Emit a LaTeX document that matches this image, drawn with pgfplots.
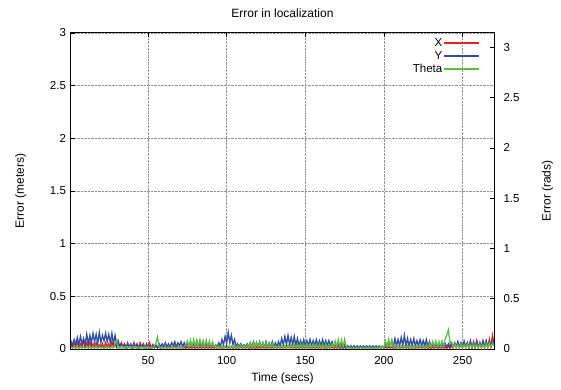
\documentclass[border=0pt]{standalone}
\usepackage{fontspec}
\setmainfont{Liberation Sans}
\usepackage{pgfplots}
\usepackage{pgfplotstable}
\pgfplotsset{compat=1.18}
\definecolor{xred}{RGB}{232,32,36}
\definecolor{yblue}{RGB}{50,78,165}
\definecolor{thgreen}{RGB}{98,186,70}

\pgfplotstableread{
t X Y Th
1 0.05 0.08 0.020
2 0.01 0.03 0.005
3 0.06 0.09 0.025
4 0.02 0.04 0.008
5 0.07 0.11 0.020
6 0.01 0.04 0.005
7 0.05 0.12 0.025
8 0.02 0.05 0.008
9 0.08 0.10 0.022
10 0.01 0.04 0.006
11 0.06 0.14 0.025
12 0.02 0.05 0.008
13 0.07 0.13 0.020
14 0.01 0.06 0.005
15 0.05 0.15 0.025
16 0.02 0.07 0.008
17 0.06 0.14 0.022
18 0.01 0.05 0.006
19 0.04 0.16 0.025
20 0.02 0.06 0.008
21 0.05 0.13 0.020
22 0.01 0.08 0.005
23 0.06 0.15 0.025
24 0.02 0.07 0.008
25 0.05 0.14 0.022
26 0.01 0.06 0.006
27 0.07 0.15 0.025
28 0.02 0.05 0.008
29 0.05 0.13 0.050
30 0.01 0.04 0.090
31 0.05 0.08 0.010
32 0.02 0.02 0.020
33 0.06 0.05 0.008
34 0.02 0.02 0.022
35 0.05 0.04 0.006
36 0.01 0.01 0.020
37 0.06 0.05 0.008
38 0.02 0.02 0.022
39 0.05 0.04 0.006
40 0.01 0.01 0.020
41 0.06 0.05 0.008
42 0.02 0.02 0.022
43 0.05 0.04 0.006
44 0.01 0.01 0.020
45 0.06 0.04 0.008
46 0.02 0.02 0.022
47 0.05 0.04 0.006
48 0.01 0.01 0.020
49 0.05 0.04 0.008
50 0.02 0.02 0.022
51 0.06 0.03 0.006
52 0.01 0.01 0.020
53 0.04 0.04 0.008
54 0.01 0.02 0.030
55 0.03 0.04 0.060
56 0.01 0.01 0.120
57 0.02 0.05 0.020
58 0.005 0.02 0.010
59 0.02 0.05 0.018
60 0.005 0.02 0.008
61 0.02 0.06 0.018
62 0.005 0.02 0.008
63 0.02 0.05 0.018
64 0.005 0.02 0.008
65 0.02 0.06 0.018
66 0.005 0.03 0.008
67 0.03 0.07 0.018
68 0.005 0.02 0.008
69 0.02 0.06 0.018
70 0.005 0.03 0.008
71 0.02 0.07 0.020
72 0.005 0.02 0.008
73 0.02 0.06 0.025
74 0.005 0.02 0.040
75 0.02 0.06 0.080
76 0.005 0.02 0.020
77 0.02 0.06 0.090
78 0.005 0.02 0.020
79 0.02 0.05 0.095
80 0.005 0.02 0.025
81 0.02 0.06 0.090
82 0.005 0.02 0.020
83 0.02 0.05 0.095
84 0.005 0.02 0.025
85 0.02 0.06 0.085
86 0.005 0.02 0.020
87 0.02 0.05 0.090
88 0.005 0.02 0.020
89 0.02 0.05 0.080
90 0.005 0.02 0.020
91 0.02 0.04 0.070
92 0.005 0.02 0.015
93 0.02 0.04 0.035
94 0.005 0.02 0.010
95 0.02 0.06 0.030
96 0.005 0.02 0.010
97 0.02 0.09 0.030
98 0.005 0.04 0.010
99 0.02 0.12 0.030
100 0.005 0.05 0.010
101 0.02 0.16 0.030
102 0.005 0.06 0.010
103 0.02 0.13 0.030
104 0.005 0.04 0.010
105 0.02 0.09 0.035
106 0.005 0.02 0.010
107 0.02 0.05 0.035
108 0.005 0.02 0.010
109 0.02 0.05 0.040
110 0.005 0.02 0.010
111 0.02 0.04 0.035
112 0.005 0.02 0.010
113 0.02 0.05 0.040
114 0.005 0.02 0.015
115 0.02 0.06 0.065
116 0.005 0.02 0.015
117 0.02 0.07 0.070
118 0.005 0.02 0.015
119 0.02 0.06 0.065
120 0.005 0.02 0.015
121 0.02 0.07 0.070
122 0.005 0.02 0.015
123 0.02 0.06 0.065
124 0.005 0.02 0.015
125 0.02 0.07 0.060
126 0.005 0.02 0.015
127 0.02 0.06 0.060
128 0.005 0.02 0.015
129 0.02 0.07 0.055
130 0.005 0.02 0.010
131 0.02 0.06 0.035
132 0.005 0.02 0.010
133 0.02 0.07 0.030
134 0.005 0.03 0.010
135 0.02 0.10 0.035
136 0.005 0.04 0.010
137 0.02 0.12 0.035
138 0.005 0.04 0.010
139 0.03 0.13 0.040
140 0.005 0.04 0.010
141 0.02 0.11 0.045
142 0.005 0.04 0.010
143 0.02 0.12 0.050
144 0.005 0.03 0.010
145 0.02 0.10 0.045
146 0.005 0.03 0.010
147 0.02 0.08 0.050
148 0.005 0.03 0.010
149 0.02 0.09 0.045
150 0.005 0.03 0.010
151 0.02 0.08 0.050
152 0.005 0.03 0.010
153 0.02 0.09 0.045
154 0.005 0.03 0.010
155 0.02 0.08 0.050
156 0.005 0.03 0.010
157 0.02 0.09 0.045
158 0.005 0.03 0.010
159 0.02 0.08 0.050
160 0.005 0.03 0.010
161 0.03 0.09 0.045
162 0.005 0.03 0.010
163 0.02 0.08 0.050
164 0.005 0.03 0.010
165 0.02 0.08 0.045
166 0.005 0.03 0.010
167 0.02 0.07 0.050
168 0.005 0.02 0.015
169 0.02 0.05 0.080
170 0.005 0.02 0.020
171 0.02 0.04 0.095
172 0.005 0.01 0.020
173 0.02 0.04 0.090
174 0.005 0.01 0.020
175 0.02 0.04 0.095
176 0.005 0.01 0.020
177 0.03 0.03 0.020
178 0.005 0.01 0.005
179 0.02 0.03 0.015
180 0.005 0.01 0.005
181 0.02 0.03 0.015
182 0.005 0.01 0.005
183 0.02 0.03 0.015
184 0.005 0.01 0.005
185 0.02 0.03 0.015
186 0.005 0.01 0.005
187 0.02 0.03 0.015
188 0.005 0.01 0.005
189 0.02 0.03 0.015
190 0.005 0.01 0.005
191 0.02 0.03 0.015
192 0.005 0.01 0.005
193 0.02 0.03 0.015
194 0.005 0.01 0.005
195 0.02 0.03 0.015
196 0.005 0.01 0.005
197 0.02 0.03 0.020
198 0.005 0.01 0.005
199 0.02 0.03 0.030
200 0.005 0.01 0.010
201 0.02 0.05 0.080
202 0.005 0.02 0.020
203 0.02 0.06 0.095
204 0.005 0.02 0.020
205 0.02 0.08 0.090
206 0.005 0.02 0.015
207 0.02 0.10 0.035
208 0.005 0.03 0.010
209 0.02 0.09 0.030
210 0.005 0.03 0.010
211 0.02 0.11 0.030
212 0.005 0.03 0.010
213 0.02 0.13 0.030
214 0.005 0.03 0.010
215 0.02 0.10 0.035
216 0.005 0.03 0.010
217 0.02 0.09 0.030
218 0.005 0.03 0.010
219 0.02 0.10 0.030
220 0.005 0.03 0.010
221 0.02 0.08 0.030
222 0.005 0.03 0.010
223 0.02 0.09 0.035
224 0.005 0.03 0.010
225 0.02 0.08 0.035
226 0.005 0.03 0.010
227 0.02 0.09 0.040
228 0.005 0.02 0.015
229 0.02 0.07 0.050
230 0.005 0.02 0.020
231 0.02 0.05 0.075
232 0.005 0.02 0.020
233 0.02 0.05 0.080
234 0.005 0.02 0.020
235 0.02 0.05 0.075
236 0.005 0.02 0.020
237 0.02 0.05 0.080
238 0.005 0.02 0.025
239 0.02 0.05 0.100
240 0.005 0.02 0.140
241 0.03 0.05 0.190
242 0.005 0.02 0.060
243 0.03 0.06 0.070
244 0.01 0.02 0.020
245 0.05 0.06 0.050
246 0.01 0.02 0.015
247 0.06 0.07 0.045
248 0.01 0.02 0.015
249 0.05 0.06 0.050
250 0.01 0.02 0.015
251 0.07 0.07 0.045
252 0.01 0.02 0.015
253 0.06 0.06 0.050
254 0.01 0.02 0.015
255 0.08 0.07 0.045
256 0.01 0.02 0.015
257 0.07 0.06 0.050
258 0.01 0.02 0.015
259 0.08 0.07 0.045
260 0.01 0.02 0.015
261 0.06 0.06 0.050
262 0.01 0.02 0.015
263 0.08 0.07 0.045
264 0.01 0.02 0.015
265 0.07 0.08 0.055
266 0.01 0.02 0.015
267 0.09 0.07 0.060
268 0.02 0.03 0.020
269 0.13 0.08 0.060
270 0.05 0.04 0.030
}\errdata

\begin{document}
\begin{tikzpicture}[font=\fontsize{12}{14}\selectfont]
\path[use as bounding box] (-71pt,-41pt) rectangle (490pt,349pt);
\pgfplotsset{
  common/.style={
    scale only axis, width=423pt, height=316pt,
    xmin=1, xmax=270,
    /pgf/number format/assume math mode=true,
    tick align=inside, major tick length=4pt,
    tick style={black, line width=0.5pt},
    axis line style={black, line width=1pt},
    every tick label/.append style={font=\fontsize{11.5}{13}\selectfont},
  },
  legline/.style={legend image code/.code={%
    \node[inner sep=0pt, anchor=west, text=#1] at (0pt,0pt) {\color{#1}\rule[-0.7pt]{35pt}{1.4pt}};}},
}
\begin{axis}[common,
  ymin=0, ymax=3,
  xtick={50,100,150,200,250},
  ytick={0,0.5,1,1.5,2,2.5,3},
  xtick pos=both, ytick pos=left,
  xticklabel style={yshift=-4pt},
  yticklabel style={xshift=-1.5pt},
  grid=major,
  grid style={densely dotted, gray!85, line width=0.5pt},
  title={Error in localization},
  every axis title/.style={at={(axis description cs:0.5,1.038)}, anchor=south, font=\fontsize{12}{14}\selectfont},
  xlabel={Time (secs)},
  every axis x label/.style={at={(axis description cs:0.5,-0.065)}, anchor=north, font=\fontsize{12}{14}\selectfont},
  ylabel={Error (meters)},
  every axis y label/.style={at={(axis description cs:-0.097,0.5)}, rotate=90, anchor=south, font=\fontsize{12}{14}\selectfont},
  legend style={at={(axis description cs:0.968,0.992)}, anchor=north east,
    draw=none, fill=none, font=\fontsize{11.5}{13}\selectfont,
    row sep=-0.5pt, inner sep=1pt},
  legend cell align=right,
  legend plot pos=right,
]
\addlegendimage{legline=xred}
\addlegendentry{X}
\addlegendimage{legline=yblue}
\addlegendentry{Y}
\addlegendimage{legline=thgreen}
\addlegendentry{Theta}
\addplot[draw=xred, line width=1.3pt, forget plot] table[x=t, y=X] {\errdata};
\addplot[draw=yblue, line width=1.3pt, forget plot] table[x=t, y=Y] {\errdata};
\end{axis}
\begin{axis}[common,
  ymin=0, ymax=3.14159,
  axis x line=none,
  axis y line*=right,
  ytick={0,0.5,1,1.5,2,2.5,3},
  yticklabel style={xshift=6pt},
  ylabel={Error (rads)},
  every axis y label/.style={at={(axis description cs:1.105,0.5)}, rotate=90, anchor=north, font=\fontsize{12}{14}\selectfont},
]
\addplot[draw=thgreen, line width=1.3pt] table[x=t, y=Th] {\errdata};
\end{axis}
\end{tikzpicture}
\end{document}
